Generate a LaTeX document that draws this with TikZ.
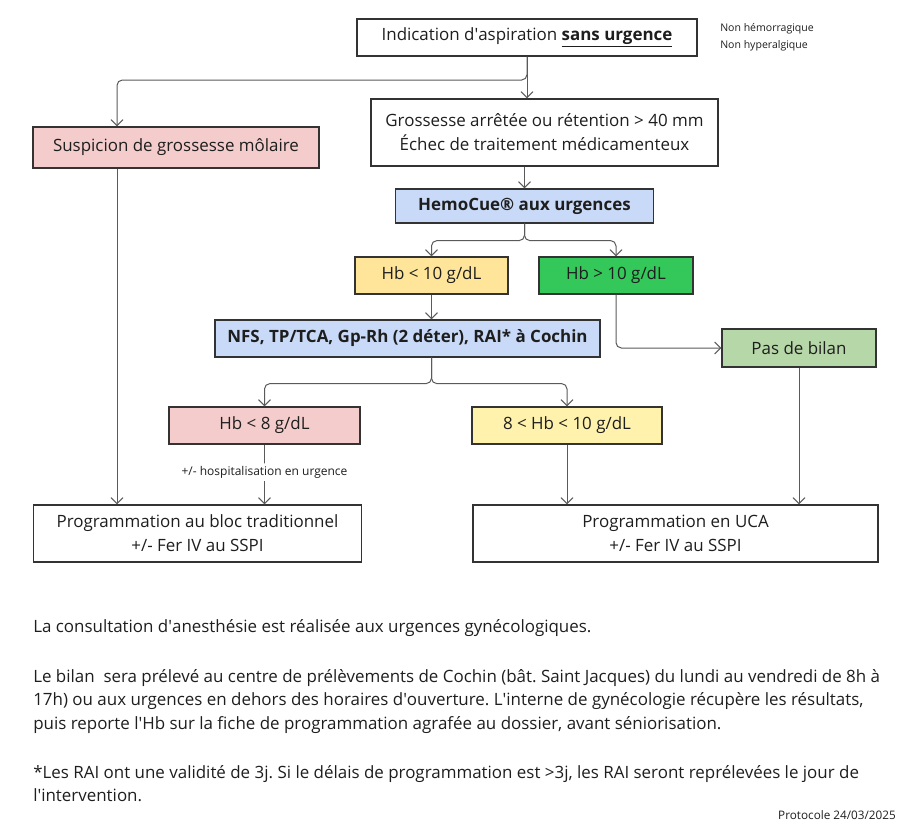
\documentclass[tikz,border=0pt]{standalone}
\usepackage{fontspec}
\setmainfont{Open Sans}
\usetikzlibrary{arrows.meta}
\newcommand{\apos}{\textquotesingle}
\definecolor{boxborder}{HTML}{333333}
\definecolor{linecol}{HTML}{5A5A5A}
\definecolor{txt}{HTML}{1E1E1E}
\definecolor{pinkfill}{HTML}{F4CCCC}
\definecolor{bluefill}{HTML}{C9DAF8}
\definecolor{yellowfill}{HTML}{FFE599}
\definecolor{greenfill}{HTML}{34C759}
\definecolor{lgreenfill}{HTML}{B6D7A8}
\definecolor{lyellowfill}{HTML}{FFF2AC}
\begin{document}
\frenchspacing
\begin{tikzpicture}[x=0.75pt,y=-0.75pt,
  box/.style={draw=boxborder, line width=0.9pt, inner sep=0pt, text=txt,
    font=\fontsize{12.7}{18}\selectfont, align=center},
  conn/.style={draw=linecol, line width=0.75pt, rounded corners=4pt,
    -{Straight Barb[length=4.5pt,width=9pt]}},
  bodytext/.style={anchor=base west, inner sep=0pt, text=txt, font=\fontsize{12.7}{16}\selectfont},
  small/.style={inner sep=0pt, text=txt, font=\fontsize{7.9}{10}\selectfont}]
\useasboundingbox (0,0) rectangle (908,836);

% boxes
\node[box, minimum width=255pt, minimum height=27.75pt] (top) at (527,37.5)
  {Indication d\apos aspiration \textbf{\underline{sans urgence}}};
\node[box, fill=pinkfill, minimum width=214.5pt, minimum height=30.75pt] (susp) at (176,147.5)
  {Suspicion de grossesse môlaire};
\node[box, minimum width=260.25pt, minimum height=50.25pt] (gross) at (544.5,132.5)
  {Grossesse arrêtée ou rétention > 40 mm\\Échec de traitement médicamenteux};
\node[box, fill=bluefill, minimum width=193.5pt, minimum height=25.5pt] (hemo) at (524.5,206)
  {\textbf{HemoCue® aux urgences}};
\node[box, fill=yellowfill, minimum width=114.75pt, minimum height=27.75pt] (hbl) at (431.5,275.5)
  {Hb < 10 g/dL};
\node[box, fill=greenfill, minimum width=115.5pt, minimum height=27.75pt] (hbg) at (616,275.5)
  {Hb > 10 g/dL};
\node[box, fill=bluefill, minimum width=288.75pt, minimum height=27.75pt] (nfs) at (407.5,338.5)
  {\textbf{NFS, TP/TCA, Gp-Rh (2 déter), RAI* à Cochin}};
\node[box, fill=lgreenfill, minimum width=115.5pt, minimum height=28.5pt] (pas) at (799,348)
  {Pas de bilan};
\node[box, fill=pinkfill, minimum width=143.25pt, minimum height=27.75pt] (hbeight) at (264.5,425.5)
  {Hb < 8 g/dL};
\node[box, fill=lyellowfill, minimum width=142.5pt, minimum height=27.75pt] (hbmid) at (567,425.5)
  {8 < Hb < 10 g/dL};
\node[box, minimum width=246pt, minimum height=42.75pt] (bloc) at (197.5,533.5)
  {Programmation au bloc traditionnel\\+/- Fer IV au SSPI};
\node[box, minimum width=303.75pt, minimum height=42.75pt] (uca) at (675.5,533.5)
  {Programmation en UCA\\+/- Fer IV au SSPI};

% side note
\node[small, anchor=west] (note1) at (720,29) {Non hémorragique};
\node[small, anchor=west] (note2) at (720,46) {Non hyperalgique};

% connectors
\coordinate (sA) at (117,80);
\coordinate (nfsout) at (nfs.south -| hbl.south);
\draw[conn] (top.south) -- (top.south |- gross.north);
\draw[conn] (top.south) |- (sA) -- (sA |- susp.north);
\draw[conn] (hemo.north |- gross.south) -- (hemo.north);
\draw[conn] (hemo.south) -- ++(0,17) -| (hbl.north);
\draw[conn] (hemo.south) -- ++(0,17) -| (hbg.north);
\draw[conn] (hbl.south) -- (hbl.south |- nfs.north);
\draw[conn] (hbg.south) |- (pas.west);
\draw[conn] (nfsout) -- ++(0,26) -| (hbeight.north);
\draw[conn] (nfsout) -- ++(0,26) -| (hbmid.north);
\draw[conn] (sA |- susp.south) -- (sA |- bloc.north);
\draw[conn] (hbeight.south) -- node[fill=white, inner sep=2pt, text=txt,
  font=\fontsize{9}{11}\selectfont, pos=0.46] (hosp) {+/- hospitalisation en urgence}
  (hbeight.south |- bloc.north);
\draw[conn] (hbmid.south) -- (hbmid.south |- uca.north);
\draw[conn] (pas.south) -- (pas.south |- uca.north);

% body text
\node[bodytext] (l1) at (33,632) {La consultation d\apos anesthésie est réalisée aux urgences gynécologiques.};
\node[bodytext] (l2) at (33,682) {Le bilan\ \ sera prélevé au centre de prélèvements de Cochin (bât. Saint Jacques) du lundi au vendredi de 8h à};
\node[bodytext] (l3) at (33,705.5) {17h) ou aux urgences en dehors des horaires d\apos ouverture. L\apos interne de gynécologie récupère les résultats,};
\node[bodytext] (l4) at (33,729) {puis reporte l\apos Hb sur la fiche de programmation agrafée au dossier, avant séniorisation.};
\node[bodytext] (l5) at (33,778) {*Les RAI ont une validité de 3j. Si le délais de programmation est >3j, les RAI seront reprélevées le jour de};
\node[bodytext] (l6) at (33,801.5) {l\apos intervention.};
\node[small, anchor=base east, font=\fontsize{8.8}{10}\selectfont] (proto) at (896,819) {Protocole 24/03/2025};
\end{tikzpicture}
\end{document}
